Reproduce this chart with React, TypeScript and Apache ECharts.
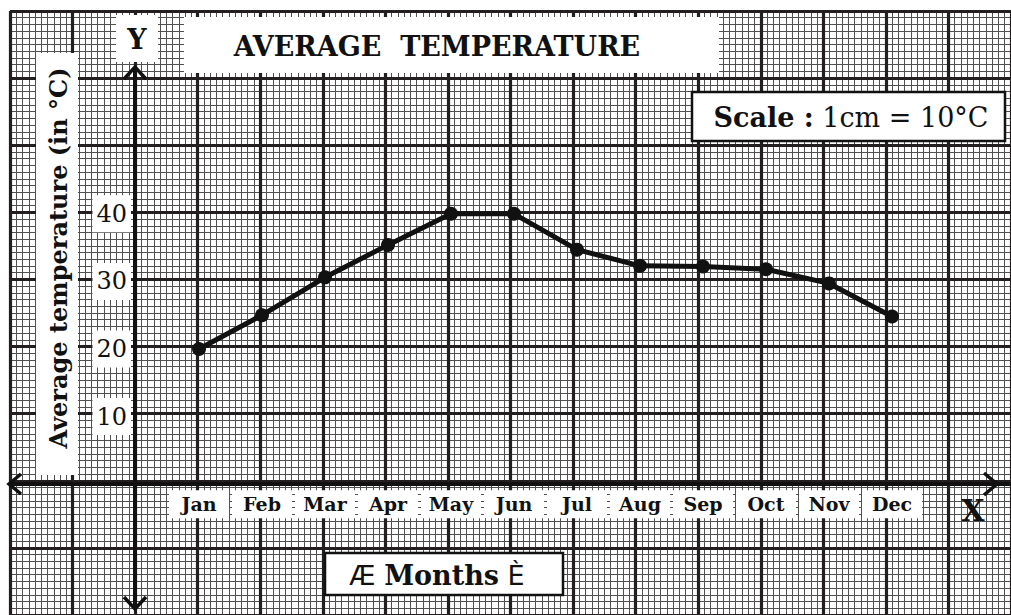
import React, { useEffect, useRef } from 'react';
import * as echarts from 'echarts';

const months = ['Jan', 'Feb', 'Mar', 'Apr', 'May', 'Jun', 'Jul', 'Aug', 'Sep', 'Oct', 'Nov', 'Dec'];
const temperatures = [20, 25, 30.6, 35.4, 40, 40, 34.7, 32.3, 32.2, 31.8, 29.7, 24.8];
const yMin = 0;
const yMax = 40;
const yStep = 10;

const SERIF = '"DejaVu Serif", "Liberation Serif", serif';
const SANS = '"DejaVu Sans", "Liberation Sans", sans-serif';
const INK = '#111';
const MAJOR = '#231f20';
const MINOR = '#505050';

export default function App() {
  const ref = useRef<HTMLDivElement>(null);

  useEffect(() => {
    document.body.style.margin = '0';
    if (!ref.current) return;
    const chart = echarts.init(ref.current, null, { renderer: 'svg' });

    const paperAxisBase = {
      gridIndex: 1,
      type: 'value' as const,
      axisLine: { show: false },
      axisTick: { show: false },
      axisLabel: { show: false },
      silent: true,
    };

    const option: any = {
      animation: false,
      backgroundColor: '#fff',
      title: {
        text: 'AVERAGE  TEMPERATURE',
        left: 437,
        top: 32,
        textAlign: 'center',
        padding: 0,
        z: 12,
        textStyle: {
          fontFamily: SERIF,
          fontWeight: 'bold',
          fontSize: 27,
          lineHeight: 28,
          color: INK,
        },
      },
      grid: [
        { left: 199, top: 213.8, width: 693, height: 270.4 },
        { left: 10, top: 11, width: 1008, height: 608.4 },
      ],
      xAxis: [
        {
          gridIndex: 0,
          type: 'category',
          data: months,
          boundaryGap: false,
          z: 6,
          axisLine: { show: false },
          axisTick: { show: false },
          splitLine: { show: false },
          axisLabel: {
            margin: 6,
            fontFamily: SERIF,
            fontWeight: 'bold',
            fontSize: 19,
            color: INK,
            width: 52,
            lineHeight: 18,
            align: 'center',
            padding: [5, 4, 5, 4],
            backgroundColor: '#fff',
          },
        },
        {
          ...paperAxisBase,
          position: 'bottom',
          min: 0,
          max: 160,
          interval: 1,
          z: 0,
          splitLine: { show: true, lineStyle: { color: MINOR, width: 1 } },
        },
        {
          ...paperAxisBase,
          position: 'top',
          min: 0,
          max: 160,
          interval: 10,
          z: 1,
          splitLine: { show: true, lineStyle: { color: MAJOR, width: 3.2 } },
        },
      ],
      yAxis: [
        {
          gridIndex: 0,
          type: 'value',
          min: yMin,
          max: yMax,
          interval: yStep,
          offset: 64,
          z: 6,
          axisLine: { show: false },
          axisTick: { show: false },
          splitLine: { show: false },
          axisLabel: {
            showMinLabel: false,
            margin: 4,
            fontFamily: SERIF,
            fontSize: 24,
            color: INK,
            padding: [7, 4, 6, 4],
            backgroundColor: '#fff',
          },
        },
        {
          ...paperAxisBase,
          position: 'left',
          min: 0,
          max: 90,
          interval: 1,
          z: 0,
          splitLine: { show: true, lineStyle: { color: MINOR, width: 1 } },
        },
        {
          ...paperAxisBase,
          position: 'right',
          min: 0,
          max: 90,
          interval: 10,
          z: 1,
          splitLine: { show: true, lineStyle: { color: MAJOR, width: 3.2 } },
        },
      ],
      series: [
        {
          type: 'line',
          xAxisIndex: 0,
          yAxisIndex: 0,
          data: temperatures,
          z: 7,
          symbol: 'circle',
          symbolSize: 14,
          lineStyle: { color: INK, width: 5 },
          itemStyle: { color: INK },
          silent: true,
        },
      ],
      graphic: [
        // axes with arrows
        { type: 'line', z: 8, shape: { x1: 135, y1: 67, x2: 135, y2: 609 }, style: { stroke: INK, lineWidth: 4 } },
        { type: 'polyline', z: 8, shape: { points: [[124, 79], [135, 67], [146, 79]] }, style: { stroke: INK, lineWidth: 3.5, fill: 'none' } },
        { type: 'polyline', z: 8, shape: { points: [[124, 597], [135, 609], [146, 597]] }, style: { stroke: INK, lineWidth: 3.5, fill: 'none' } },
        { type: 'line', z: 8, shape: { x1: 9, y1: 484, x2: 1011, y2: 484 }, style: { stroke: INK, lineWidth: 4 } },
        { type: 'polyline', z: 8, shape: { points: [[21, 474], [9, 484], [21, 494]] }, style: { stroke: INK, lineWidth: 3.5, fill: 'none' } },
        { type: 'polyline', z: 8, shape: { points: [[984, 473], [997, 484], [984, 495]] }, style: { stroke: INK, lineWidth: 3.5, fill: 'none' } },
        // Y label
        { type: 'rect', z: 10, shape: { x: 116, y: 15, width: 42, height: 47 }, style: { fill: '#fff' } },
        { type: 'text', z: 11, x: 137, y: 39, style: { text: 'Y', fontFamily: SERIF, fontWeight: 'bold', fontSize: 27, fill: INK, align: 'center', verticalAlign: 'middle' } },
        // title box
        { type: 'rect', z: 10, shape: { x: 184, y: 17, width: 535, height: 56 }, style: { fill: '#fff' } },
        // scale box
        { type: 'rect', z: 10, shape: { x: 692, y: 92, width: 313, height: 49 }, style: { fill: '#fff', stroke: INK, lineWidth: 2.5 } },
        {
          type: 'text', z: 11, x: 851, y: 117,
          style: {
            text: '{b|Scale :} 1cm = 10°C',
            fontFamily: SERIF, fontSize: 27, fill: INK, align: 'center', verticalAlign: 'middle',
            rich: { b: { fontFamily: SERIF, fontSize: 27, fontWeight: 'bold', fill: INK } },
          },
        },
        // y axis title
        { type: 'rect', z: 10, shape: { x: 36, y: 53, width: 42, height: 422 }, style: { fill: '#fff' } },
        {
          type: 'text', z: 11, x: 58, y: 258, rotation: Math.PI / 2,
          style: { text: 'Average temperature (in °C)', fontFamily: SERIF, fontWeight: 'bold', fontSize: 24, fill: INK, align: 'center', verticalAlign: 'middle' },
        },
        // months box
        { type: 'rect', z: 10, shape: { x: 325, y: 553, width: 238, height: 42 }, style: { fill: '#fff', stroke: INK, lineWidth: 2.5 } },
        {
          type: 'text', z: 11, x: 437, y: 575,
          style: {
            text: 'Æ {b|Months} È',
            fontFamily: SANS, fontSize: 27, fill: INK, align: 'center', verticalAlign: 'middle',
            rich: { b: { fontFamily: SERIF, fontSize: 27, fontWeight: 'bold', fill: INK } },
          },
        },
        // X label
        { type: 'text', z: 11, x: 973, y: 510, style: { text: 'X', fontFamily: SERIF, fontWeight: 'bold', fontSize: 30, fill: INK, align: 'center', verticalAlign: 'middle' } },
      ],
    };

    chart.setOption(option);
    return () => chart.dispose();
  }, []);

  return <div ref={ref} style={{ width: 1011, height: 615 }} />;
}
